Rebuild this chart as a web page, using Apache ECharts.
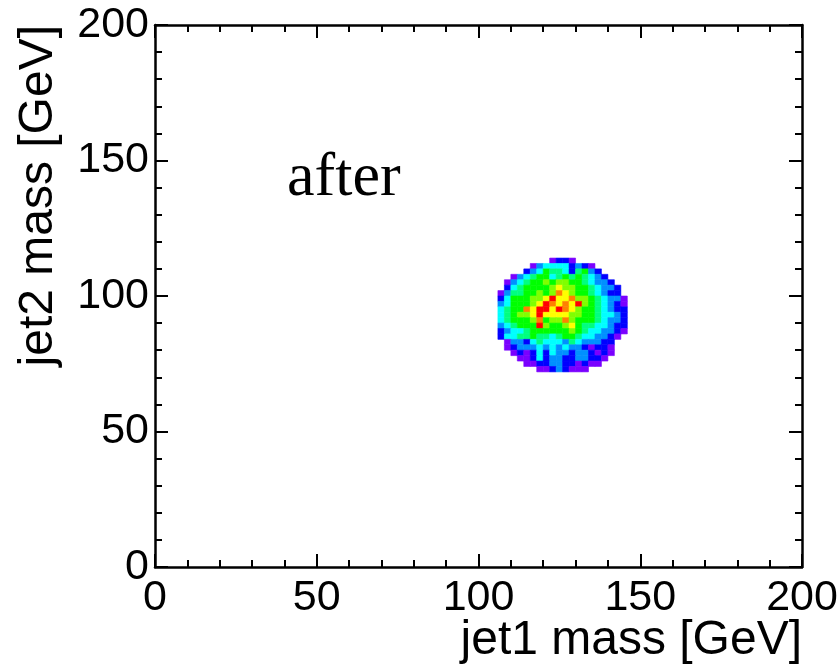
<!DOCTYPE html>
<html>
<head>
<meta charset="utf-8">
<script src="https://cdn.jsdelivr.net/npm/echarts@6/dist/echarts.min.js"></script>
<style>html,body{margin:0;padding:0;background:#fff;}#chart{width:840px;height:670px;}</style>
</head>
<body>
<div id="chart"></div>
<script>
// Axis ticks
const xTicks = [0, 50, 100, 150, 200];
const yTicks = [0, 50, 100, 150, 200];
const xTitle = 'jet1 mass [GeV]';
const yTitle = 'jet2 mass [GeV]';
const label = 'after';

// 2D histogram: bins of 2 GeV. jet1 bins start at 106 GeV.
const binWidth = 2;
const firstColX = 106;
// lower edge (jet2 mass) of each row of bins, top to bottom
const rowY = [112,110,108,106,104,102,100,98,96,94,92,90,88,86,84,82,80,78,76,74,72];
// index of first filled jet1 bin in each row
const rowFirstCol = [8,5,4,2,1,1,0,0,0,0,0,0,0,0,0,1,1,2,3,4,6];
// bin contents (relative counts) per row
const cellValues = [
  [1,2,2,1],
  [1,3,4,4,4,4,2,3,2,1],
  [2,3,4,6,5,5,4,2,5,6,3,2],
  [1,3,4,5,6,6,4,5,6,5,6,5,4,3,2],
  [1,3,4,5,6,6,7,6,7,7,6,6,5,4,3,3,2],
  [2,4,5,6,6,6,6,7,8,7,7,6,6,5,4,3,3,2],
  [1,3,5,5,6,6,7,6,7,9,8,7,6,6,5,4,3,2,2],
  [2,4,6,6,6,7,7,8,10,8,8,9,7,7,6,5,4,3,3,1],
  [3,4,6,6,6,7,8,10,9,8,9,8,10,7,6,5,4,3,2,1],
  [4,5,6,6,9,8,10,10,8,10,9,8,7,6,6,5,4,3,2,2],
  [4,5,6,7,7,8,10,8,8,8,8,7,7,6,6,5,4,4,3,2],
  [4,5,6,6,6,7,9,6,7,7,9,7,6,6,6,5,4,3,3,2],
  [3,4,5,6,6,6,10,7,6,6,7,8,6,5,5,4,4,3,2,2],
  [2,3,4,4,5,6,6,6,6,6,6,7,6,5,4,4,3,3,2,1],
  [2,4,4,5,5,6,5,5,4,5,6,6,5,4,4,3,3,2,1],
  [1,3,3,2,4,5,4,4,4,3,5,4,3,3,3,2,2],
  [1,2,3,3,3,4,3,4,3,4,3,3,2,1,2,2,1],
  [1,2,1,2,4,2,4,3,3,2,3,3,2,1,2,1],
  [1,1,2,4,2,3,3,2,2,3,3,2,2,1],
  [1,1,2,2,3,3,2,2,1,2,1,1],
  [1,1,2,3,2,1,1,1]
];

const data = [];
rowY.forEach((y, r) => {
  cellValues[r].forEach((v, k) => {
    const x = firstColX + (rowFirstCol[r] + k) * binWidth;
    data.push([x, y, v]);
  });
});

const palette = ['#7a00ff','#0000ff','#0090ff','#00ffff','#00ff80','#00ff00','#80ff00','#ffff00','#ff8000','#ff0000'];

const FONT = 'Liberation Sans, Arial, Helvetica, sans-serif';
const chart = echarts.init(document.getElementById('chart'), null, {renderer: 'canvas'});

function mkAxis(extra) {
  return Object.assign({
    type: 'value', min: xTicks[0], max: xTicks[xTicks.length - 1], interval: xTicks[1] - xTicks[0],
    axisLine: {show: true, onZero: false, lineStyle: {color: '#000', width: 2.5}},
    axisTick: {show: true, inside: true, length: 13, lineStyle: {color: '#000', width: 2}},
    minorTick: {show: true, splitNumber: 5, length: 7, lineStyle: {color: '#000', width: 2}},
    splitLine: {show: false},
    minorSplitLine: {show: false},
    axisLabel: {show: false}
  }, extra);
}

const option = {
  animation: false,
  backgroundColor: '#fff',
  grid: {left: 155, top: 25, right: 38, bottom: 103, containLabel: false, outerBoundsMode: 'none'},
  visualMap: {
    type: 'continuous', show: false, min: 1, max: 10, dimension: 2, seriesIndex: 0,
    inRange: {color: palette}
  },
  xAxis: [
    mkAxis({
      position: 'bottom',
      axisLabel: {show: true, fontFamily: FONT, fontSize: 43, color: '#000', margin: 10},
      name: xTitle, nameLocation: 'end', nameGap: 0, nameMoveOverlap: false,
      nameTextStyle: {fontFamily: FONT, fontSize: 48, color: '#000', align: 'right', verticalAlign: 'top', padding: [50, 0, 0, 0]}
    }),
    mkAxis({position: 'top'})
  ],
  yAxis: [
    mkAxis({
      min: yTicks[0], max: yTicks[yTicks.length - 1], interval: yTicks[1] - yTicks[0],
      position: 'left',
      axisLabel: {show: true, fontFamily: FONT, fontSize: 43, color: '#000', margin: 6},
      name: yTitle, nameLocation: 'end', nameGap: 0, nameRotate: 90, nameMoveOverlap: false,
      nameTextStyle: {fontFamily: FONT, fontSize: 48, color: '#000', align: 'right', verticalAlign: 'bottom', padding: [0, 0, 92, 0]}
    }),
    mkAxis({min: yTicks[0], max: yTicks[yTicks.length - 1], interval: yTicks[1] - yTicks[0], position: 'right'})
  ],
  graphic: [{
    type: 'text', left: 287, top: 148,
    style: {text: label, font: '62px "Liberation Serif", "Times New Roman", serif', fill: '#000'}
  }],
  series: [{
    type: 'custom',
    xAxisIndex: 0, yAxisIndex: 0,
    data: data,
    encode: {x: 0, y: 1},
    renderItem: function (params, api) {
      const x0 = api.value(0), y0 = api.value(1);
      const p0 = api.coord([x0, y0 + binWidth]);
      const p1 = api.coord([x0 + binWidth, y0]);
      const c = api.visual('color');
      return {
        type: 'rect',
        shape: {x: p0[0], y: p0[1], width: p1[0] - p0[0], height: p1[1] - p0[1]},
        style: {fill: c, stroke: c, lineWidth: 0.6}
      };
    }
  }]
};
chart.setOption(option);
</script>
</body>
</html>
